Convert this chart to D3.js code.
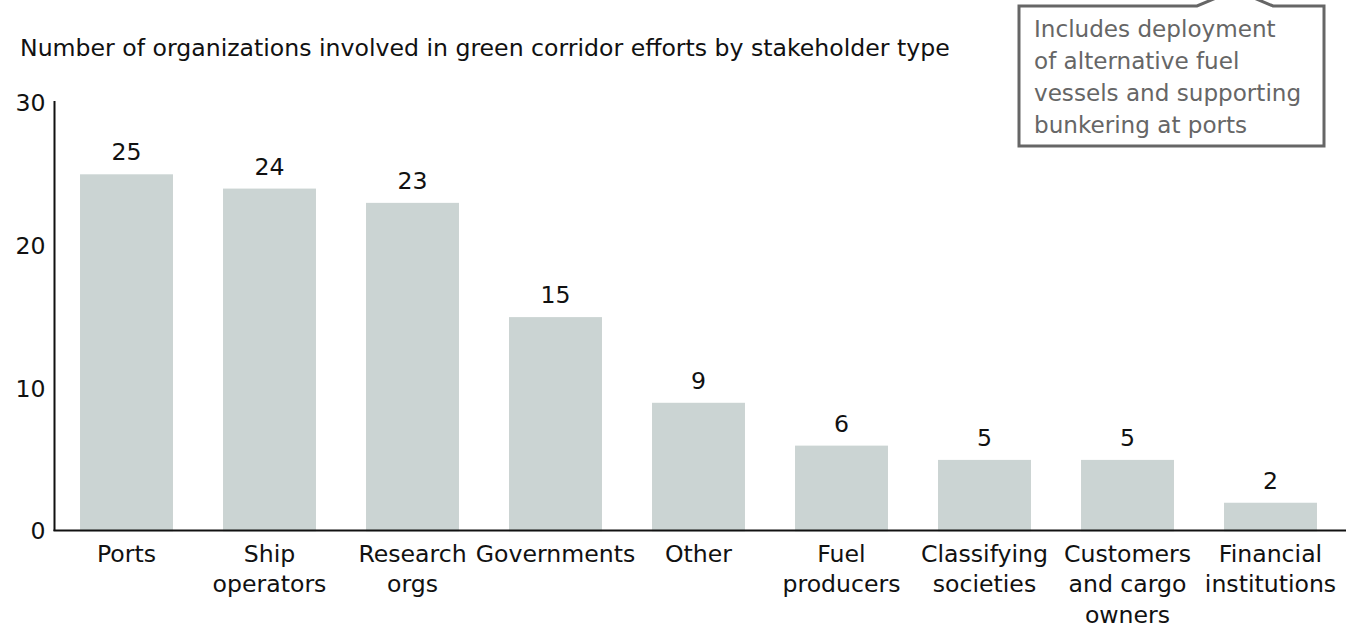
<!DOCTYPE html>
<html>
<head>
<meta charset="utf-8">
<script src="https://cdn.jsdelivr.net/npm/d3@7"></script>
<style>
  html, body { margin: 0; padding: 0; background: #fff; }
  svg { display: block; }
  text { font-family: "DejaVu Sans", sans-serif; }
</style>
</head>
<body>
<svg id="chart" width="1358" height="634"></svg>
<script>
// Stakeholder categories (line breaks within a label are separated by "\n")
const categories = [
  "Ports",
  "Ship\noperators",
  "Research\norgs",
  "Governments",
  "Other",
  "Fuel\nproducers",
  "Classifying\nsocieties",
  "Customers\nand cargo\nowners",
  "Financial\ninstitutions"
];
// Number of organizations per stakeholder type
const counts = [25, 24, 23, 15, 9, 6, 5, 5, 2];
const yTicks = [0, 10, 20, 30];
const titleText = "Number of organizations involved in green corridor efforts by stakeholder type";
const noteLines = [
  "Includes deployment",
  "of alternative fuel",
  "vessels and supporting",
  "bunkering at ports"
];

const svg = d3.select("#chart");
const fontSize = 23.6;
const noteFontSize = 23.1;

const x = d3.scaleBand()
  .domain(categories)
  .range([55, 1342])
  .paddingInner(0.35)
  .paddingOuter(0.175);

const y = d3.scaleLinear()
  .domain([0, 30])
  .range([531.3, 102.9]);

// Title
svg.append("text")
  .attr("x", 20)
  .attr("y", 56)
  .attr("font-size", fontSize)
  .attr("fill", "#111")
  .text(titleText);

// Bars
svg.append("g")
  .selectAll("rect")
  .data(counts)
  .join("rect")
  .attr("x", (d, i) => x(categories[i]))
  .attr("y", d => y(d))
  .attr("width", x.bandwidth())
  .attr("height", d => y(0) - y(d))
  .attr("fill", "#cbd4d3");

// Value labels above bars
svg.append("g")
  .selectAll("text")
  .data(counts)
  .join("text")
  .attr("x", (d, i) => x(categories[i]) + x.bandwidth() / 2)
  .attr("y", d => y(d) - 14)
  .attr("text-anchor", "middle")
  .attr("font-size", fontSize)
  .attr("fill", "#111")
  .text(d => d);

// Y axis: plain line with labels, no tick marks
const yAxis = d3.axisLeft(y)
  .tickValues(yTicks)
  .tickSize(0)
  .tickPadding(9);
const gy = svg.append("g")
  .attr("transform", "translate(54.5,0)")
  .call(yAxis);
gy.select(".domain").remove();
gy.append("line")
  .attr("x1", 0).attr("x2", 0)
  .attr("y1", 101).attr("y2", 531)
  .attr("stroke", "#111")
  .attr("stroke-width", 2);
gy.selectAll(".tick text")
  .attr("font-size", fontSize)
  .attr("font-family", null)
  .attr("fill", "#111");

// X axis baseline
svg.append("line")
  .attr("x1", 53.5).attr("x2", 1346)
  .attr("y1", 530.5).attr("y2", 530.5)
  .attr("stroke", "#111")
  .attr("stroke-width", 2);

// Category labels (multi-line)
const xl = svg.append("g")
  .selectAll("text")
  .data(categories)
  .join("text")
  .attr("x", d => x(d) + x.bandwidth() / 2)
  .attr("y", 561.5)
  .attr("text-anchor", "middle")
  .attr("font-size", fontSize)
  .attr("fill", "#111");
xl.each(function (d) {
  const t = d3.select(this);
  d.split("\n").forEach((line, k) => {
    t.append("tspan")
      .attr("x", x(d) + x.bandwidth() / 2)
      .attr("dy", k === 0 ? 0 : 30.5)
      .text(line);
  });
});

// Callout box with an upward-pointing tail
const bx0 = 1019, bx1 = 1324, by0 = 6, by1 = 146;
const callout = d3.path();
callout.moveTo(bx0, by0);
callout.lineTo(1197, by0);
callout.lineTo(1235, -10);
callout.lineTo(1273, by0);
callout.lineTo(bx1, by0);
callout.lineTo(bx1, by1);
callout.lineTo(bx0, by1);
callout.closePath();
svg.append("path")
  .attr("d", callout.toString())
  .attr("fill", "#fff")
  .attr("stroke", "#666")
  .attr("stroke-width", 3)
  .attr("stroke-linejoin", "miter");

svg.append("g")
  .selectAll("text")
  .data(noteLines)
  .join("text")
  .attr("x", 1034)
  .attr("y", (d, i) => 37 + i * 32)
  .attr("font-size", noteFontSize)
  .attr("fill", "#666")
  .text(d => d);
</script>
</body>
</html>
